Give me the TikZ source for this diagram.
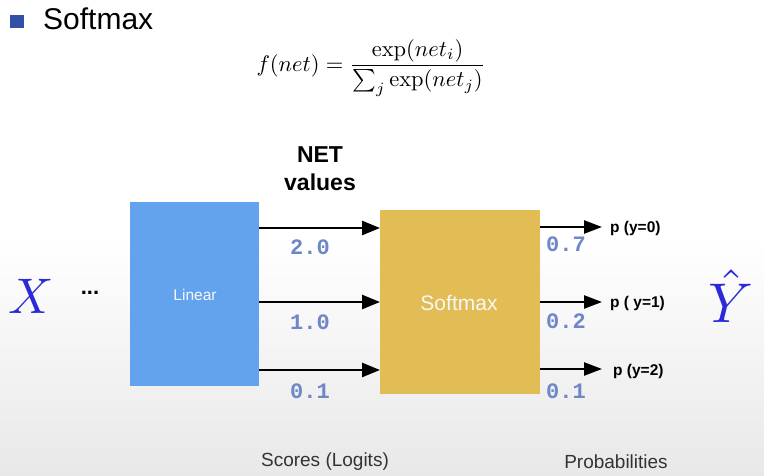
\documentclass[tikz,border=0pt]{standalone}
\usepackage[no-math]{fontspec}
\setmainfont{Liberation Sans}
\newfontfamily\monof{Liberation Mono}
\usetikzlibrary{arrows.meta}
\definecolor{bullet}{HTML}{3350A8}
\definecolor{linblue}{HTML}{63A3EE}
\definecolor{gold}{HTML}{E2BD55}
\definecolor{numcol}{HTML}{6F86C8}
\definecolor{varblue}{HTML}{2A2AD8}
\definecolor{captxt}{HTML}{333333}
\tikzset{
  arr/.style={line width=2.6pt,-{Triangle[length=18pt,width=14pt]}},
  oarr/.style={line width=2.4pt,-{Triangle[length=18pt,width=13pt]}},
  num/.style={font=\monof\bfseries\fontsize{22}{22}\selectfont,text=numcol,inner sep=0pt},
  plab/.style={font=\bfseries\fontsize{15.5}{15.5}\selectfont,anchor=west,inner sep=0pt},
  captext/.style={font=\fontsize{19}{19}\selectfont,text=captxt,inner sep=0pt},
  boxlab/.style={text=white!94!gray,inner sep=0pt},
  mathnode/.style={inner sep=0pt,font=\fontsize{10}{12}\selectfont,scale=#1,transform shape}
}
\begin{document}
\begin{tikzpicture}[x=1pt,y=-1pt]
\path[use as bounding box] (0,0) rectangle (764,476);
\shade[top color=white,bottom color=black!9,draw=none] (0,240) rectangle (764,476);
% title
\fill[bullet] (10,15) rectangle (24,28);
\node[anchor=base west,inner sep=0pt,font=\fontsize{30}{30}\selectfont] (title) at (43,30) {Softmax};
% formula
\node[mathnode=2.25] (formula) at (371,68)
  {$\displaystyle f(net)=\frac{\exp(net_i)}{\textstyle\sum_j \exp(net_j)}$};
% boxes
\fill[linblue] (130,202) rectangle (259,386);
\coordinate (linC) at (195,295);
\node[boxlab,font=\fontsize{15.5}{15.5}\selectfont] (linear) at (linC) {Linear};
\fill[gold] (380,210) rectangle (540,394);
\node[boxlab,font=\fontsize{21}{21}\selectfont] (softmax) at (459,303) {Softmax};
% input arrows
\coordinate (a1) at (259,228); \coordinate (b1) at (380,228);
\coordinate (a2) at (259,302); \coordinate (b2) at (380,302);
\coordinate (a3) at (259,370); \coordinate (b3) at (380,370);
\draw[arr] (a1) -- (b1);
\draw[arr] (a2) -- (b2);
\draw[arr] (a3) -- (b3);
% output arrows
\coordinate (c1) at (540,227); \coordinate (d1) at (602,227);
\coordinate (c2) at (540,302); \coordinate (d2) at (602,302);
\coordinate (c3) at (540,369); \coordinate (d3) at (602,369);
\draw[oarr] (c1) -- (d1);
\draw[oarr] (c2) -- (d2);
\draw[oarr] (c3) -- (d3);
\node[plab] (p0) at (610,228) {p (y=0)};
\node[plab] (p1) at (610,303) {p ( y=1)};
\node[plab] (p2) at (613,371) {p (y=2)};
% NET values
\node[align=center,font=\bfseries\fontsize{23}{28}\selectfont,inner sep=0pt] (net) at (320,169) {NET\\values};
% numbers
\node[num] (n1) at (310,247) {2.0};
\node[num] (n2) at (310,322) {1.0};
\node[num] (n3) at (310,391) {0.1};
\node[num] (q1) at (566,244) {0.7};
\node[num] (q2) at (566,321) {0.2};
\node[num] (q3) at (566,391) {0.1};
% X and Yhat
\node[mathnode=5,text=varblue] (X) at (31,296) {$X$};
\node[inner sep=0pt,font=\bfseries\fontsize{22}{22}\selectfont] (dots) at (90,293) {...};
\node[mathnode=5.6,text=varblue] (Y) at (731,296) {$\hat{Y}$};
% captions
\node[captext] (scores) at (325,462) {Scores (Logits)};
\node[captext] (probs) at (616,462) {Probabilities};
\end{tikzpicture}
\end{document}
